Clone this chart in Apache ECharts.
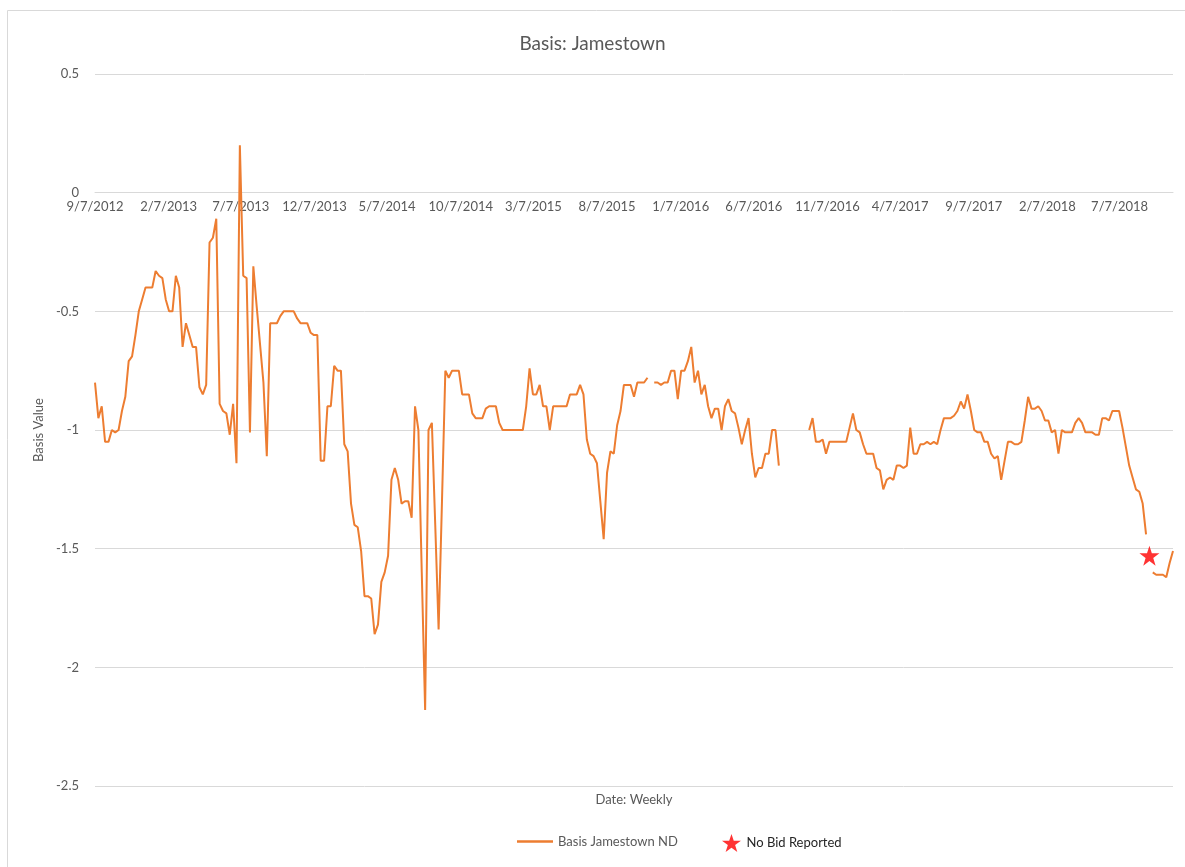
<!DOCTYPE html>
<html>
<head>
<meta charset="utf-8">
<title>Basis: Jamestown</title>
<script src="https://cdn.jsdelivr.net/npm/echarts@6/dist/echarts.min.js"></script>
<style>
  html, body { margin: 0; padding: 0; background: #fff; }
  #chart { width: 1185px; height: 867px; }
</style>
</head>
<body>
<div id="chart"></div>
<script>
  // weekly basis, first week 9/7/2012, null = no bid
  var firstWeek = [2012, 9, 7];
  var basisValues = [
    -0.80, -0.95, -0.90, -1.05, -1.05, -1.00, -1.01, -1.00, -0.92, -0.86,
    -0.71, -0.69, -0.60, -0.50, -0.45, -0.40, -0.40, -0.40, -0.33, -0.35,
    -0.36, -0.45, -0.50, -0.50, -0.35, -0.40, -0.65, -0.55, -0.60, -0.65,
    -0.65, -0.82, -0.85, -0.81, -0.21, -0.19, -0.11, -0.89, -0.92, -0.93,
    -1.02, -0.89, -1.14, 0.20, -0.35, -0.36, -1.01, -0.31, -0.48, -0.64,
    -0.80, -1.11, -0.55, -0.55, -0.55, -0.52, -0.50, -0.50, -0.50, -0.50,
    -0.53, -0.55, -0.55, -0.55, -0.59, -0.60, -0.60, -1.13, -1.13, -0.90,
    -0.90, -0.73, -0.75, -0.75, -1.06, -1.09, -1.31, -1.40, -1.41, -1.51,
    -1.70, -1.70, -1.71, -1.86, -1.82, -1.64, -1.60, -1.53, -1.21, -1.16,
    -1.21, -1.31, -1.30, -1.30, -1.37, -0.90, -1.00, -1.60, -2.18, -1.00,
    -0.97, -1.40, -1.84, -1.30, -0.75, -0.78, -0.75, -0.75, -0.75, -0.85,
    -0.85, -0.85, -0.93, -0.95, -0.95, -0.95, -0.91, -0.90, -0.90, -0.90,
    -0.97, -1.00, -1.00, -1.00, -1.00, -1.00, -1.00, -1.00, -0.90, -0.74,
    -0.85, -0.85, -0.81, -0.90, -0.90, -1.00, -0.90, -0.90, -0.90, -0.90,
    -0.90, -0.85, -0.85, -0.85, -0.81, -0.85, -1.04, -1.10, -1.11, -1.14,
    -1.30, -1.46, -1.18, -1.09, -1.10, -0.98, -0.92, -0.81, -0.81, -0.81,
    -0.86, -0.80, -0.80, -0.80, -0.78, null, -0.80, -0.80, -0.81, -0.80,
    -0.80, -0.75, -0.75, -0.87, -0.75, -0.75, -0.71, -0.65, -0.80, -0.75,
    -0.85, -0.81, -0.90, -0.95, -0.91, -0.91, -1.00, -0.90, -0.87, -0.92,
    -0.93, -0.99, -1.06, -1.00, -0.95, -1.10, -1.20, -1.16, -1.16, -1.10,
    -1.10, -1.00, -1.00, -1.15, null, null, null, null, null, null,
    null, null, -1.00, -0.95, -1.05, -1.05, -1.04, -1.10, -1.05, -1.05,
    -1.05, -1.05, -1.05, -1.05, -0.99, -0.93, -1.00, -1.01, -1.06, -1.10,
    -1.10, -1.10, -1.16, -1.17, -1.25, -1.21, -1.20, -1.21, -1.15, -1.15,
    -1.16, -1.15, -0.99, -1.10, -1.10, -1.06, -1.06, -1.05, -1.06, -1.05,
    -1.06, -1.00, -0.95, -0.95, -0.95, -0.94, -0.92, -0.88, -0.91, -0.85,
    -0.92, -1.00, -1.01, -1.01, -1.05, -1.05, -1.10, -1.12, -1.11, -1.21,
    -1.13, -1.05, -1.05, -1.06, -1.06, -1.05, -0.96, -0.86, -0.91, -0.91,
    -0.90, -0.92, -0.96, -0.96, -1.01, -1.00, -1.10, -1.00, -1.01, -1.01,
    -1.01, -0.97, -0.95, -0.97, -1.01, -1.01, -1.01, -1.02, -1.02, -0.95,
    -0.95, -0.96, -0.92, -0.92, -0.92, -0.99, -1.07, -1.15, -1.20, -1.25,
    -1.26, -1.31, -1.44, null, -1.60, -1.61, -1.61, -1.61, -1.62, -1.56,
    -1.51
  ];
  var noBidDates = ["9/7/2018"];
  var noBidValues = [-1.53];
  var tickLabels = ["9/7/2012", "2/7/2013", "7/7/2013", "12/7/2013", "5/7/2014",
    "10/7/2014", "3/7/2015", "8/7/2015", "1/7/2016", "6/7/2016", "11/7/2016",
    "4/7/2017", "9/7/2017", "2/7/2018", "7/7/2018"];
  var yTicks = { min: -2.5, max: 0.5, step: 0.5 };

  var starPath = "path://M12,0 L14.9,8.6 L24,8.6 L16.6,14 L19.4,22.8 L12,17.4 L4.6,22.8 L7.4,14 L0,8.6 L9.1,8.6 Z";
  var grey = "#595959";
  var font = "Lato";
  var grid = { left: 95, right: 12, top: 74, bottom: 81 };
  var plotHeight = 867 - grid.top - grid.bottom;
  // date axis crosses the value axis at 0, like the spreadsheet chart
  var zeroOffset = -plotHeight * (0 - yTicks.min) / (yTicks.max - yTicks.min);

  function parseDate(s) {
    var p = s.split("/");
    return new Date(+p[2], +p[0] - 1, +p[1]).getTime();
  }
  function fmtDate(v) {
    var d = new Date(v);
    return (d.getMonth() + 1) + "/" + d.getDate() + "/" + d.getFullYear();
  }

  var basisData = basisValues.map(function (v, i) {
    var t = new Date(firstWeek[0], firstWeek[1] - 1, firstWeek[2] + 7 * i).getTime();
    return [t, v === null ? "-" : v];
  });
  var noBidData = noBidDates.map(function (d, i) {
    return [parseDate(d), noBidValues[i]];
  });

  var myChart = echarts.init(document.getElementById("chart"));
  var option = {
    animation: false,
    textStyle: { fontFamily: font },
    title: {
      text: "Basis: Jamestown",
      left: "center",
      top: 29,
      textStyle: { fontSize: 19, fontWeight: "normal", color: grey, fontFamily: font }
    },
    graphic: [
      {
        type: "rect",
        shape: { x: 7.5, y: 10.5, width: 1200, height: 900 },
        style: { fill: "none", stroke: "#d9d9d9", lineWidth: 1 },
        silent: true
      },
      {
        type: "text",
        x: 634,
        y: 800,
        style: {
          text: "Date: Weekly", align: "center", verticalAlign: "middle",
          fill: grey, font: "13px " + font
        }
      }
    ],
    legend: [
      {
        data: [{ name: "Basis Jamestown ND", icon: "rect" }],
        left: 517,
        top: 835,
        padding: 0,
        itemWidth: 36,
        itemHeight: 2.5,
        textStyle: { fontSize: 13, color: grey, fontFamily: font }
      },
      {
        data: [{ name: "No Bid Reported", icon: starPath }],
        left: 722,
        top: 834,
        padding: 0,
        itemWidth: 20,
        itemHeight: 18,
        textStyle: { fontSize: 13, color: "#262626", fontFamily: font }
      }
    ],
    grid: { left: grid.left, right: grid.right, top: grid.top, bottom: grid.bottom, containLabel: false },
    xAxis: {
      type: "value",
      scale: true,
      min: basisData[0][0],
      max: basisData[basisData.length - 1][0],
      offset: zeroOffset,
      axisLine: { onZero: false, lineStyle: { color: "#d9d9d9" } },
      axisTick: { show: false },
      splitLine: { show: false },
      axisLabel: {
        customValues: tickLabels.map(parseDate),
        formatter: fmtDate,
        color: grey,
        fontSize: 13,
        margin: 8,
        hideOverlap: false,
        showMinLabel: true,
        showMaxLabel: true
      }
    },
    yAxis: {
      type: "value",
      min: yTicks.min,
      max: yTicks.max,
      interval: yTicks.step,
      name: "Basis Value",
      nameLocation: "middle",
      nameGap: 50,
      nameRotate: 90,
      nameTextStyle: { fontSize: 13, color: grey, fontFamily: font },
      axisLine: { show: false },
      axisTick: { show: false },
      splitLine: { lineStyle: { color: "#d9d9d9" } },
      axisLabel: { color: grey, fontSize: 13, margin: 16 }
    },
    series: [
      {
        name: "Basis Jamestown ND",
        type: "line",
        data: basisData,
        symbol: "none",
        connectNulls: false,
        lineStyle: { color: "#ED7D31", width: 2 },
        itemStyle: { color: "#ED7D31" }
      },
      {
        name: "No Bid Reported",
        type: "scatter",
        data: noBidData,
        symbol: starPath,
        symbolSize: 20,
        itemStyle: { color: "#FF0000" }
      }
    ]
  };
  myChart.setOption(option);
</script>
</body>
</html>
